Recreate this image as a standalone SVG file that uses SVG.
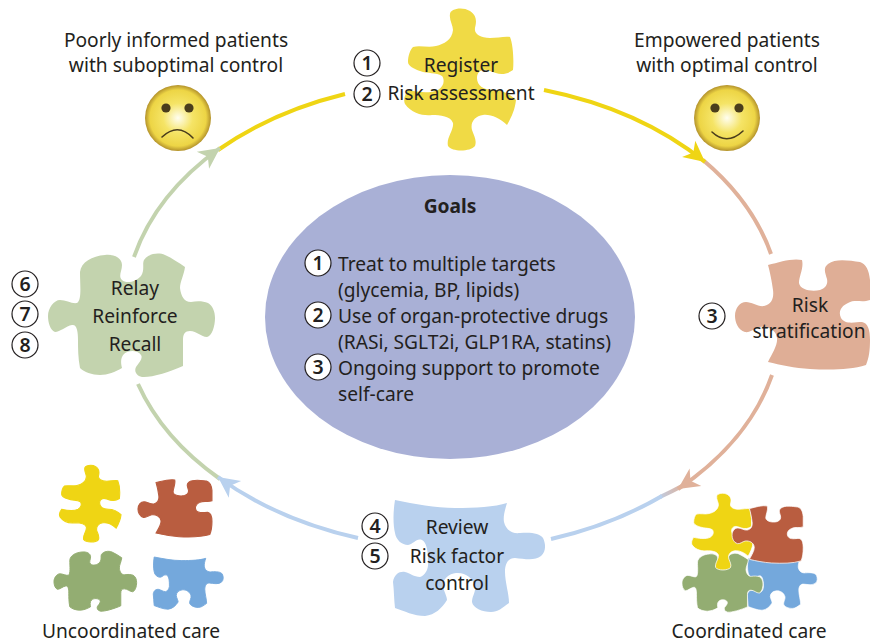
<svg xmlns="http://www.w3.org/2000/svg" width="870" height="643" viewBox="0 0 870 643">
<style>
text{font-family:"Noto Sans","Open Sans","Liberation Sans",sans-serif;font-size:19.2px;fill:#231f20;text-anchor:middle}
.l{text-anchor:start}
.b{font-weight:700}
.n{font-weight:600;font-size:19.5px}
.nc{fill:#fff;stroke:#231f20;stroke-width:1.2}
.arc{fill:none;stroke-width:4}
.eye{fill:#4a3d1c}
.mouth{fill:none;stroke:#4a3d1c;stroke-width:1.6;stroke-linecap:round}
.w{stroke:#fff;stroke-width:1.4}
.f{stroke-width:2}
</style>
<defs>
<path id="py" d="M450 14 C450 9 462 6 470 11 C478 16 476 24 475 28 C474 34 480 38 490 38 C497 38 505 36 510 37 C513 44 514 60 513 70 C505 76 497 74 490 71 C483 68 477 71 477 78 C477 86 484 90 493 90 C502 90 510 94 516 100 C515 110 511 118 507 125 C500 118 490 114 483 115 C475 116 470 122 472 130 C474 136 477 140 475 146 C470 152 452 152 448 146 C446 138 454 130 453 123 C451 116 440 115 432 115 C424 116 412 114 405 104 C403 100 405 94 408 90 C416 92 430 94 438 90 C444 86 445 80 442 76 C436 72 428 74 420 71 C414 69 408 66 408 62 C408 56 410 50 413 47 C420 45 428 48 436 46 C444 44 452 40 453 30 C453 25 449 20 450 14 Z"/>
<path id="pr" d="M768 265 C780 262 792 258 802 260 C804 268 799 276 799 283 C800 290 812 292 820 290 C826 288 828 284 827 279 C825 272 823 268 828 264 C836 258 850 261 860 262 C866 264 869 270 870 280 L870 300 C862 303 855 299 848 303 C841 306 838 312 841 318 C845 325 855 322 862 322 C868 323 870 330 870 340 C870 350 869 358 866 365 C850 370 830 370 810 369 C795 368 780 365 768 362 C772 354 778 345 777 338 C776 330 768 326 760 327 C755 328 750 333 745 332 C738 330 735 322 735 316 C735 308 740 302 746 302 C752 302 758 307 764 306 C772 304 774 298 773 290 C772 282 770 272 768 265 Z"/>
<path id="pg" d="M80 272 C81 262 92 256 105 255 C114 254 122 258 122 265 C122 271 118 276 122 280 C126 284 136 282 141 276 C145 270 142 264 144 260 C148 254 158 252 165 255 C172 258 179 263 185 267 C184 275 180 282 180 288 C181 296 184 302 191 302 C197 301 203 301 208 303 C213 306 215 312 215 318 C215 326 212 336 207 337 C201 337 197 331 190 331 C185 331 183 334 183 340 L183 366 C170 372 150 378 142 377 C136 376 134 371 136 367 C140 362 143 358 141 355 C138 350 128 350 124 354 C120 358 121 364 122 368 C115 372 108 375 100 375 C92 375 84 372 80 368 C78 358 78 348 78 340 C78 332 77 324 72 325 C66 326 60 332 55 332 C50 330 48 322 48 316 C48 308 54 300 60 300 C66 300 72 304 77 303 C82 300 80 285 80 272 Z"/>
<path id="pb" d="M395 500 C415 504 435 508 455 508 C475 508 495 507 507 503 C505 510 503 516 504 522 C506 530 512 534 520 533 C530 532 540 533 543 538 C546 544 546 552 541 556 C535 561 525 559 515 558 C508 558 505 564 505 572 C505 582 509 594 509 603 C502 608 498 612 491 612 C482 612 473 608 472 602 C472 596 476 592 475 586 C473 578 465 572 456 573 C449 574 443 578 443 586 C444 592 447 596 447 600 C442 608 435 615 425 616 C414 616 404 611 395 608 C394 600 394 590 393 582 C394 574 400 571 405 572 C410 573 414 577 420 577 C426 575 429 568 428 560 C428 550 426 542 422 540 C416 538 414 544 408 545 C402 545 396 540 395 533 C393 525 393 512 395 500 Z"/>
<radialGradient id="face" cx="0.5" cy="0.5" r="0.5">
<stop offset="0" stop-color="#fffef0"/>
<stop offset="0.45" stop-color="#f5e466"/>
<stop offset="0.85" stop-color="#edd545"/>
<stop offset="1" stop-color="#b3922c"/>
</radialGradient>
<linearGradient id="rb" gradientUnits="userSpaceOnUse" x1="684" y1="485" x2="655" y2="500">
<stop offset="0" stop-color="#e0b19a"/>
<stop offset="1" stop-color="#b9d1ee"/>
</linearGradient>
<marker id="hy" markerUnits="userSpaceOnUse" markerWidth="26" markerHeight="26" viewBox="-24 -13 26 26" refX="0" refY="0" orient="auto"><polygon points="0,0 -21,-10.5 -15,0 -21,10.5" fill="#efd514"/></marker>
<marker id="hg" markerUnits="userSpaceOnUse" markerWidth="26" markerHeight="26" viewBox="-24 -13 26 26" refX="0" refY="0" orient="auto"><polygon points="0,0 -21,-10.5 -15,0 -21,10.5" fill="#c3d3ae"/></marker>
<marker id="hr" markerUnits="userSpaceOnUse" markerWidth="26" markerHeight="26" viewBox="-24 -13 26 26" refX="0" refY="0" orient="auto"><polygon points="0,0 -21,-10.5 -15,0 -21,10.5" fill="#e0b19a"/></marker>
<marker id="hb" markerUnits="userSpaceOnUse" markerWidth="26" markerHeight="26" viewBox="-24 -13 26 26" refX="0" refY="0" orient="auto"><polygon points="0,0 -21,-10.5 -15,0 -21,10.5" fill="#b9d1ee"/></marker>
</defs>
<rect width="870" height="643" fill="#fff"/>
<g id="connectors">
<path class="arc" stroke="#efd514" d="M345 94 A335 235 0 0 0 218 150"/>
<path class="arc" stroke="#c3d3ae" marker-end="url(#hg)" d="M134 257 A335 235 0 0 1 220 148"/>
<path class="arc" stroke="#e0b19a" d="M703 160 A335 235 0 0 1 771 254"/>
<path class="arc" stroke="#efd514" marker-end="url(#hy)" d="M544 90 A335 235 0 0 1 705 162"/>
<path class="arc" stroke="url(#rb)" d="M682 486 A335 235 0 0 1 660 497"/>
<path class="arc" stroke="#b9d1ee" d="M662 496 A335 235 0 0 1 551 539"/>
<path class="arc" stroke="#e0b19a" marker-end="url(#hr)" d="M772 375 A335 235 0 0 1 678 489"/>
<path class="arc" stroke="#c3d3ae" d="M138 384 A335 235 0 0 0 220 479"/>
<path class="arc" stroke="#b9d1ee" marker-end="url(#hb)" d="M358 538 A335 235 0 0 1 218 477"/>
</g>
<g id="goals">
<ellipse cx="450" cy="317" rx="185" ry="142" fill="#a9b0d6"/>
<text class="b" x="450" y="213">Goals</text>
<circle class="nc" cx="318" cy="263" r="13"/><text class="n" x="318" y="270">1</text>
<circle class="nc" cx="318" cy="315" r="13"/><text class="n" x="318" y="322">2</text>
<circle class="nc" cx="318" cy="367" r="13"/><text class="n" x="318" y="374">3</text>
<text class="l" x="338" y="271">Treat to multiple targets</text>
<text class="l" x="338" y="297">(glycemia, BP, lipids)</text>
<text class="l" x="338" y="323">Use of organ-protective drugs</text>
<text class="l" x="338" y="349">(RASi, SGLT2i, GLP1RA, statins)</text>
<text class="l" x="338" y="375">Ongoing support to promote</text>
<text class="l" x="338" y="401">self-care</text>
</g>
<g id="node-register">
<use href="#py" fill="#f0da45"/>
<circle class="nc" cx="367" cy="63" r="13"/><text class="n" x="367" y="70">1</text>
<circle class="nc" cx="367" cy="94" r="13"/><text class="n" x="367" y="101">2</text>
<text x="461" y="72">Register</text>
<text x="461" y="100">Risk assessment</text>
</g>
<g id="node-stratification">
<use href="#pr" fill="#dfae96"/>
<circle class="nc" cx="712" cy="316" r="13"/><text class="n" x="712" y="323">3</text>
<text x="810" y="312">Risk</text>
<text x="809" y="338">stratification</text>
</g>
<g id="node-review">
<use href="#pb" fill="#b9d1ee"/>
<circle class="nc" cx="375" cy="526" r="13"/><text class="n" x="375" y="533">4</text>
<circle class="nc" cx="375" cy="556" r="13"/><text class="n" x="375" y="563">5</text>
<text x="457" y="534">Review</text>
<text x="457" y="563">Risk factor</text>
<text x="457" y="590">control</text>
</g>
<g id="node-relay">
<use href="#pg" fill="#c3d3ae"/>
<circle class="nc" cx="25" cy="284" r="13"/><text class="n" x="25" y="291">6</text>
<circle class="nc" cx="25" cy="314" r="13"/><text class="n" x="25" y="321">7</text>
<circle class="nc" cx="25" cy="345" r="13"/><text class="n" x="25" y="352">8</text>
<text x="135" y="295">Relay</text>
<text x="135" y="323">Reinforce</text>
<text x="135" y="351">Recall</text>
</g>
<g id="node-poor">
<text x="176" y="47">Poorly informed patients</text>
<text x="176" y="72">with suboptimal control</text>
<circle cx="178" cy="118" r="33" fill="url(#face)"/>
<circle class="eye" cx="166" cy="108" r="4.6"/><circle class="eye" cx="189" cy="108" r="4.6"/>
<path class="mouth" d="M162 137 Q178 122 193 138"/>
</g>
<g id="node-empowered">
<text x="727" y="47">Empowered patients</text>
<text x="727" y="72">with optimal control</text>
<circle cx="727" cy="118" r="33" fill="url(#face)"/>
<circle class="eye" cx="715" cy="108" r="4.6"/><circle class="eye" cx="739" cy="108" r="4.6"/>
<path class="mouth" d="M712 132 Q727 146 743 131"/>
</g>
<g id="node-uncoordinated">
<use href="#py" class="f" fill="#efd514" stroke="#efd514" transform="translate(-162.75 460.7) scale(.55 .54)"/>
<use href="#pr" class="f" fill="#b95d40" stroke="#b95d40" transform="translate(-264.8 344.8) scale(.548 .52)"/>
<use href="#pg" class="f" fill="#93ad72" stroke="#93ad72" transform="translate(30.2 428.3) scale(.495 .485)"/>
<use href="#pb" class="f" fill="#74a8dc" stroke="#74a8dc" transform="translate(-27.5 332) scale(.46 .45)"/>
<text x="131" y="638">Uncoordinated care</text>
</g>
<g id="node-coordinated">
<use href="#pb" class="w" fill="#74a8dc" transform="translate(566.5 333) scale(.46 .45)"/>
<use href="#pg" class="w" fill="#93ad72" transform="translate(658.7 432.3) scale(.485 .477)"/>
<use href="#py" class="w" fill="#efd514" transform="translate(469.25 488.7) scale(.55 .54)"/>
<use href="#pr" class="w" fill="#b95d40" transform="translate(344.7 370) scale(.527 .523)"/>
<text x="749" y="638">Coordinated care</text>
</g>
</svg>
